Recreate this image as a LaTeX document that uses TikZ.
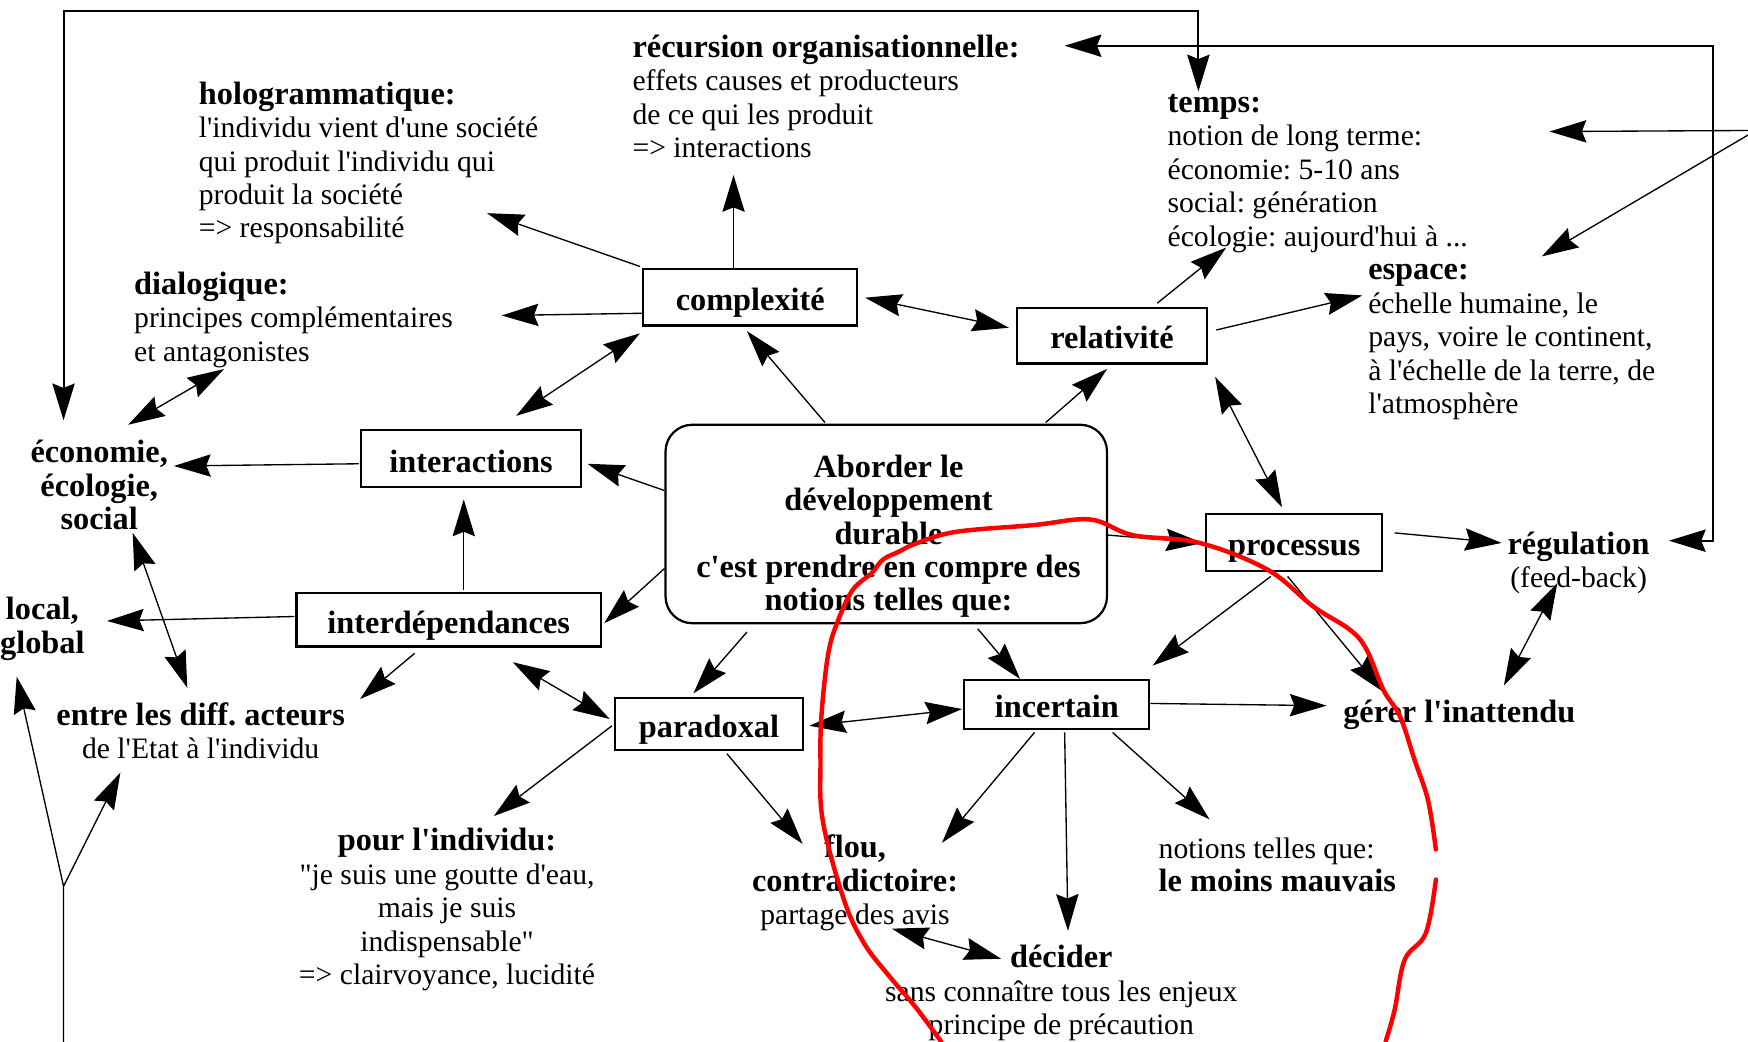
\documentclass[tikz,border=0pt]{standalone}
\usepackage{fontspec}
\setmainfont{Liberation Serif}[Ligatures=TeXOff]
\usetikzlibrary{arrows.meta,calc}
\newcommand\hd[1]{{\fontsize{14.5}{15}\selectfont\bfseries #1}}
\frenchspacing
\begin{document}
\begin{tikzpicture}[x=0.5pt,y=-0.5pt,
  >={Stealth[length=16.5pt,width=10pt,inset=2pt]},
  conn/.style={line width=0.6pt},
  frame/.style={line width=0.9pt},
  box/.style={draw, line width=1pt, inner sep=0pt, font=\fontsize{14.5}{15}\selectfont\bfseries, text height=13pt, text depth=1pt},
  txt/.style={inner sep=0pt, font=\fontsize{13.3}{15}\selectfont},
  hand/.style={red, line width=2pt, line cap=round, line join=round}]
\fill[white] (0,0) rectangle (1568,934);
\useasboundingbox (0,0) rectangle (1568,934);

% boxes
\node[box, minimum width=96pt, minimum height=25.5pt] (cx) at (673,266.5) {complexité};
\node[box, minimum width=85.5pt, minimum height=25pt] (rel) at (997.5,301) {relativité};
\node[box, minimum width=98.5pt, minimum height=25.5pt] (inter) at (422.5,411.5) {interactions};
\node[box, minimum width=136.5pt, minimum height=24pt] (interd) at (402.5,556) {interdépendances};
\node[box, minimum width=84pt, minimum height=23.5pt] (para) at (636,649.5) {paradoxal};
\node[box, minimum width=83pt, minimum height=22pt] (inc) at (948,632) {incertain};
\node[box, minimum width=79pt, minimum height=25.5pt] (proc) at (1161,486.5) {processus};
\node[draw, line width=1pt, rounded corners=12pt, minimum width=198pt, minimum height=89pt, inner sep=0pt] (ctr) at (795,470) {};
\node[inner sep=0pt, align=center, font=\fontsize{14.5}{15}\selectfont\bfseries] (ctrtxt) at (797,481) {Aborder le\\développement\\durable\\c'est prendre en compre des\\notions telles que:};

% text nodes
\node[txt, anchor=west, align=left] (rec) at (567,86.5) {\hd{récursion organisationnelle:}\\effets causes et producteurs\\de ce qui les produit\\=> interactions};
\node[txt, anchor=west, align=left] (holo) at (178,146.2) {\hd{hologrammatique:}\\l'individu vient d'une société\\qui produit l'individu qui\\produit la société\\=> responsabilité};
\node[txt, anchor=west, align=left] (dia) at (120,287) {\hd{dialogique:}\\principes complémentaires\\et antagonistes};
\node[txt, anchor=west, align=left] (temps) at (1047,155.5) {\hd{temps:}\\notion de long terme:\\économie: 5-10 ans\\social: génération\\écologie: aujourd'hui à ...};
\node[txt, anchor=west, align=left] (espace) at (1227,307) {\hd{espace:}\\échelle humaine, le\\pays, voire le continent,\\à l'échelle de la terre, de\\l'atmosphère};
\node[txt, align=center] (eco) at (89,435) {\hd{économie,}\\\hd{écologie,}\\\hd{social}};
\node[txt, align=center] (local) at (38,564) {\hd{local,}\\\hd{global}};
\node[txt, align=center] (entre) at (180,655.5) {\hd{entre les diff. acteurs}\\de l'Etat à l'individu};
\node[txt, align=center] (pour) at (401,816) {\hd{pour l'individu:}\\"je suis une goutte d'eau,\\mais je suis\\indispensable"\\=> clairvoyance, lucidité};
\node[txt, align=center] (flou) at (767,792) {\hd{flou,}\\\hd{contradictoire:}\\partage des avis};
\node[txt, align=center] (decider) at (952,891) {\hd{décider}\\sans connaître tous les enjeux\\principe de précaution};
\node[txt, anchor=west, align=left] (notions) at (1039,776) {notions telles que:\\\hd{le moins mauvais}};
\node[txt, align=center] (gerer) at (1309,641) {\hd{gérer l'inattendu}};
\node[txt, align=center] (regul) at (1416,505) {\hd{régulation}\\(feed-back)};

\coordinate (offR) at (1575,117);
\coordinate (ybot) at (57,940);
\coordinate (yfork) at (57,795);

% frames
\draw[frame,<->] ($(eco)+(-32,-58)$) |- ($(temps.west)+(28,-145.5)$) -- ($(temps.west)+(28,-73.5)$);
\draw[frame,<->] ($(rec.west)+(388,-45.5)$) -| ($(regul)+(121,-20)$) -- ($(regul)+(81,-20)$);
\draw[conn,->] (offR) -- ($(temps.west)+(343,-37.5)$);
\draw[conn,->] (offR) -- ($(espace.west)+(156,-77)$);

% connectors
\draw[conn,->] ($(cx.north)+(-15,0)$) -- ($(rec.west)+(91,70.5)$);
\draw[conn,->] ($(cx.north west)+(-2,-1)$) -- ($(holo.west)+(259,45)$);
\draw[conn,->] ($(cx.west)+(0,14.5)$) -- ($(dia.west)+(330,-4)$);
\draw[conn,<->] ($(cx.south west)+(-2,6)$) -- ($(inter.north west)+(140,-12)$);
\draw[conn,<->] ($(cx.east)+(6,0.5)$) -- ($(rel.west)+(-6,-7)$);
\draw[conn,->] ($(ctr.north)+(-55,-1)$) -- ($(cx.south)+(-3,4)$);
\draw[conn,->] ($(ctr.north)+(143,-1)$) -- ($(rel.south)+(-4.5,4)$);
\draw[conn,->] ($(rel.north)+(40.5,-3)$) -- ($(temps.west)+(53,66.5)$);
\draw[conn,->] ($(rel.east)+(7,-5)$) -- ($(espace.west)+(-5,-42)$);
\draw[conn,<->] ($(rel.south east)+(6,11)$) -- ($(proc.north)+(-11,-5)$);
\draw[conn,->] ($(ctr.east)+(0,10)$) -- ($(proc.west)+(-2,0.5)$);
\draw[conn,->] ($(proc.east)+(10,-8.5)$) -- ($(regul)+(-69,-18)$);
\draw[conn,->] ($(proc.south)+(-6,4)$) -- ($(gerer)+(-69,-21)$);
\draw[conn,->] ($(proc.south)+(-21,4)$) -- ($(inc.north east)+(2,-12)$);
\draw[conn,->] ($(ctr.south)+(82,4)$) -- ($(inc.north)+(-33,0)$);
\draw[conn,->] ($(ctr.south)+(-125,7)$) -- ($(para.north)+(-14,-3)$);
\draw[conn,->] ($(ctr.west)+(0,-30)$) -- ($(inter.east)+(5,4.5)$);
\draw[conn,->] ($(ctr.west)+(0,40)$) -- ($(interd.east)+(2,3)$);
\draw[conn,->] ($(inter.west)+(-1,4.5)$) -- ($(eco)+(67,-17)$);
\draw[conn,->] ($(interd.north)+(13.5,-2)$) -- ($(inter.south)+(-6.5,10)$);
\draw[conn,->] ($(interd.west)+(-1,-3)$) -- ($(local)+(58,-7)$);
\draw[conn,->] ($(interd.south)+(-30.5,5)$) -- ($(entre)+(143,-28.5)$);
\draw[conn,<->] ($(interd.south)+(57.5,13)$) -- ($(para.west)+(-4,-4.5)$);
\draw[conn,<->] ($(eco)+(30,43)$) -- ($(entre)+(-12,-38.5)$);
\draw[conn,<->] ($(dia.west)+(81,44)$) -- ($(eco)+(26,-54)$);
\draw[conn,<->] ($(para.east)+(5,1.5)$) -- ($(inc.west)+(-1,4)$);
\draw[conn,->] ($(para.west)+(-2,1.5)$) -- ($(pour)+(42,-84)$);
\draw[conn,->] ($(para.south)+(16,2)$) -- ($(flou)+(-47,-35)$);
\draw[conn,->] ($(inc.east)+(0,-1)$) -- ($(gerer)+(-119,-8)$);
\draw[conn,->] ($(inc.south)+(-20,2)$) -- ($(flou)+(78,-36)$);
\draw[conn,->] ($(inc.south)+(7,2)$) -- ($(decider)+(6,-56)$);
\draw[conn,->] ($(inc.south)+(50,2)$) -- ($(notions.west)+(46,-41)$);
\draw[conn,<->] ($(flou)+(33,41)$) -- ($(decider)+(-54,-31)$);
\draw[conn,<->] ($(regul)+(-19,18)$) -- ($(gerer)+(40,-26)$);
\draw[conn,->] (ybot) -- (yfork) -- ($(local)+(-23,43)$);
\draw[conn,->] (yfork) -- ($(entre)+(-72,37.5)$);

% hand-drawn red loop
\draw[hand] plot[smooth, tension=0.6] coordinates {(844,934) (821,903) (798,876) (775,846) (757,807) (738,736) (736,682) (737,640) (743,586) (752,556) (765,529) (782,514) (792,502) (806,495) (823,487) (858,477) (927,471) (978,466) (1016,480) (1076,487) (1137,511) (1178,544) (1211,565) (1226,583) (1241,619) (1256,643) (1269,682) (1281,718) (1288,762)};
\draw[hand] plot[smooth, tension=0.6] coordinates {(1288,789) (1279,837) (1260,861) (1251,906) (1243,934)};
\end{tikzpicture}
\end{document}
